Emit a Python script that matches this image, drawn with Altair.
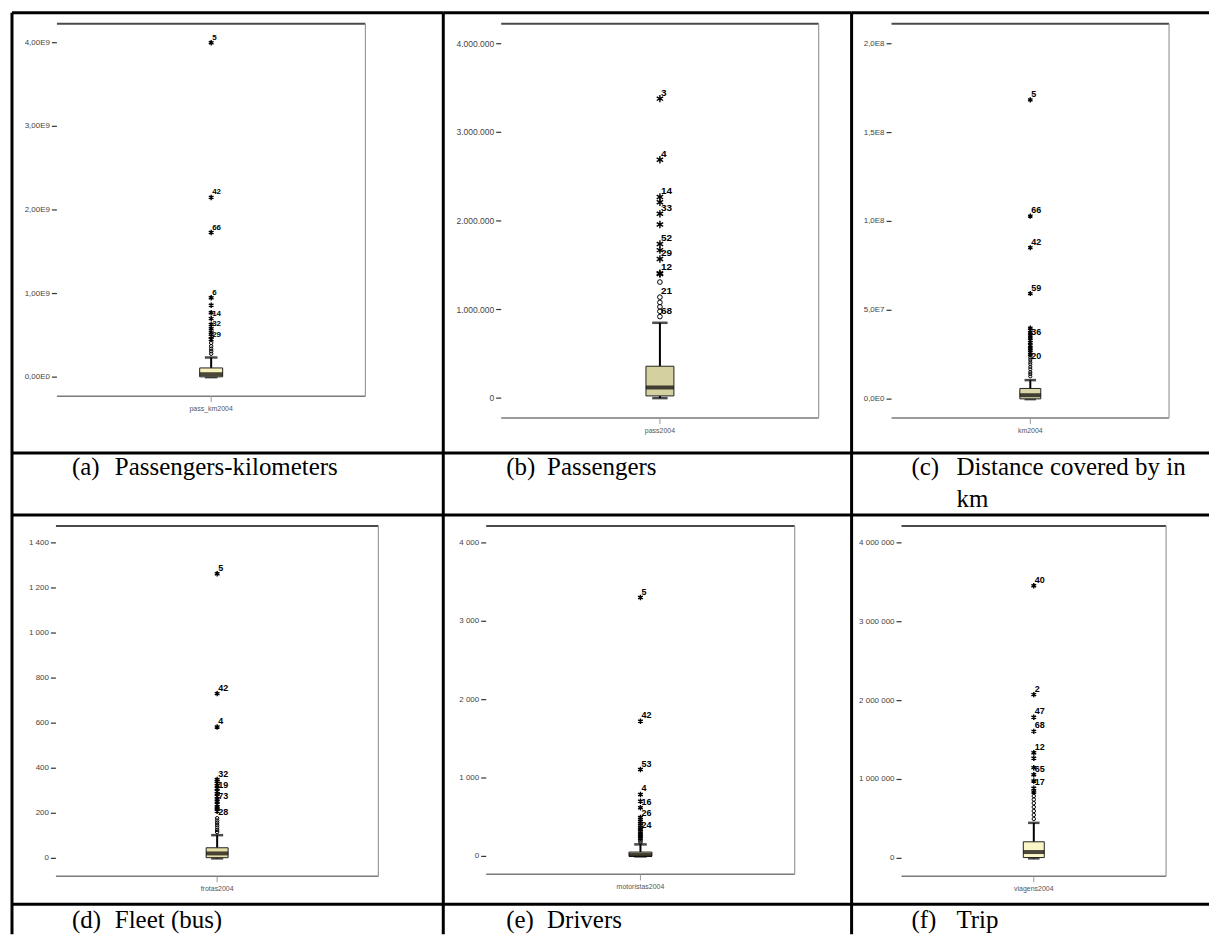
import altair as alt
import pandas as pd

# ---------------- data ----------------
VARS = ["pass_km2004", "pass2004", "km2004", "frotas2004", "motoristas2004", "viagens2004"]
TAGS = ["(a)", "(b)", "(c)", "(d)", "(e)", "(f)"]
CAPTIONS = ["Passengers-kilometers", "Passengers", "Distance covered by in", "Fleet (bus)", "Drivers", "Trip"]
CAPTION_LINE2 = ["", "", "km", "", "", ""]

# box statistics: lower whisker, Q1, median, Q3, upper whisker
A_BOX = [0.0, 0.004e9, 0.035e9, 0.11e9, 0.235e9]
A_OUT = [4.00e9, 2.15e9, 1.73e9, 0.95e9, 0.86e9, 0.77e9, 0.70e9, 0.63e9, 0.58e9, 0.53e9,
         0.49e9, 0.45e9, 0.41e9, 0.37e9, 0.34e9, 0.31e9, 0.28e9]
A_LAB = ["5", "42", "66", "6", "", "", "14", "", "32", "", "", "29", "", "", "", "", ""]
A_TICKS = [0, 1e9, 2e9, 3e9, 4e9]
A_TICKLAB = ["0,00E0", "1,00E9", "2,00E9", "3,00E9", "4,00E9"]
A_DOMAIN = [-0.227e9, 4.227e9]

B_BOX = [0.0, 0.025e6, 0.12e6, 0.36e6, 0.85e6]
B_OUT = [3.38e6, 2.69e6, 2.27e6, 2.21e6, 2.08e6, 1.96e6, 1.74e6, 1.67e6, 1.57e6, 1.41e6,
         1.40e6, 1.31e6, 1.14e6, 1.08e6, 1.03e6, 0.98e6, 0.92e6]
B_LAB = ["3", "4", "14", "", "33", "", "52", "", "29", "12", "", "", "21", "", "", "", "68"]
B_TICKS = [0, 1e6, 2e6, 3e6, 4e6]
B_TICKLAB = ["0", "1.000.000", "2.000.000", "3.000.000", "4.000.000"]
B_DOMAIN = [-0.2254e6, 4.2254e6]

C_BOX = [0.0, 0.0015e8, 0.022e8, 0.06e8, 0.107e8]
C_OUT = [1.684e8, 1.03e8, 0.852e8, 0.594e8, 0.40e8, 0.387e8, 0.372e8, 0.36e8, 0.343e8, 0.33e8,
         0.318e8, 0.301e8, 0.287e8, 0.276e8, 0.262e8, 0.249e8, 0.233e8, 0.221e8, 0.207e8,
         0.196e8, 0.181e8, 0.168e8, 0.152e8, 0.141e8, 0.128e8]
C_LAB = ["5", "66", "42", "59", "", "", "", "", "36", "", "", "", "", "", "", "", "", "", "20",
         "", "", "", "", "", ""]
C_TICKS = [0, 0.5e8, 1.0e8, 1.5e8, 2.0e8]
C_TICKLAB = ["0,0E0", "5,0E7", "1,0E8", "1,5E8", "2,0E8"]
C_DOMAIN = [-0.1067e8, 2.1124e8]

D_BOX = [0.0, 3.0, 22.0, 47.0, 103.0]
D_OUT = [1263, 731, 583, 350, 342, 333, 322, 310, 298, 287, 276, 263, 251, 240, 228, 219, 209,
         178, 168, 158, 147, 137, 126, 117]
D_LAB = ["5", "42", "4", "32", "", "", "", "", "19", "", "", "", "73", "", "", "", "",
         "28", "", "", "", "", "", ""]
D_TICKS = [0, 200, 400, 600, 800, 1000, 1200, 1400]
D_TICKLAB = ["0", "200", "400", "600", "800", "1 000", "1 200", "1 400"]
D_DOMAIN = [-79.7, 1475.3]

E_BOX = [0.0, 1.0, 17.0, 55.0, 153.0]
E_OUT = [3303, 1724, 1108, 790, 704, 620, 497, 472, 446, 421, 398, 372, 349, 322, 300, 274,
         251, 226, 199, 178]
E_LAB = ["5", "42", "53", "4", "", "16", "", "26", "", "", "", "", "", "24", "", "", "", "", "", ""]
E_TICKS = [0, 1000, 2000, 3000, 4000]
E_TICKLAB = ["0", "1 000", "2 000", "3 000", "4 000"]
E_DOMAIN = [-229.0, 4217.0]

F_BOX = [0.0, 0.01e6, 0.08e6, 0.21e6, 0.45e6]
F_OUT = [3.456e6, 2.076e6, 1.79e6, 1.61e6, 1.34e6, 1.27e6, 1.15e6, 1.06e6, 0.98e6, 0.89e6,
         0.84e6, 0.79e6, 0.745e6, 0.70e6, 0.65e6, 0.60e6, 0.55e6, 0.50e6]
F_LAB = ["40", "2", "47", "68", "12", "", "", "65", "", "17", "", "", "", "", "", "", "", ""]
F_TICKS = [0, 1e6, 2e6, 3e6, 4e6]
F_TICKLAB = ["0", "1 000 000", "2 000 000", "3 000 000", "4 000 000"]
F_DOMAIN = [-0.228e6, 4.215e6]

PANELS = [
    (A_BOX, A_OUT, A_LAB, A_TICKS, A_TICKLAB, A_DOMAIN),
    (B_BOX, B_OUT, B_LAB, B_TICKS, B_TICKLAB, B_DOMAIN),
    (C_BOX, C_OUT, C_LAB, C_TICKS, C_TICKLAB, C_DOMAIN),
    (D_BOX, D_OUT, D_LAB, D_TICKS, D_TICKLAB, D_DOMAIN),
    (E_BOX, E_OUT, E_LAB, E_TICKS, E_TICKLAB, E_DOMAIN),
    (F_BOX, F_OUT, F_LAB, F_TICKS, F_TICKLAB, F_DOMAIN),
]

# ---------------- layout / style ----------------
# cell width, cell height, frame left, frame right, frame top, frame bottom, box width
GEO = [
    (432, 503, 45, 354, 11, 384, 23),
    (409, 503, 58, 376, 11, 406, 28),
    (358, 503, 40, 318, 11, 406, 21),
    (432, 420, 44, 367, 11, 362, 22),
    (409, 420, 43, 352, 11, 360, 23),
    (358, 420, 50, 315, 11, 362, 21),
]
CAP_SEP = [441, 441, 441, 390, 390, 390]
CAP_BASE = [463, 463, 463, 414, 414, 414]
TAG_X = [60, 63, 60, 60, 63, 60]
TEXT_X = [103, 104, 105, 103, 104, 105]
# box fill, star size, circle size, label font size, tick label font size
STYLE = [
    ("#f8f2bc", 30, 12, 8, 8),
    ("#d5d0a0", 55, 22, 10, 8.5),
    ("#dcd7aa", 26, 10, 9, 8),
    ("#e6dea6", 30, 12, 9, 8),
    ("#cfc898", 30, 12, 9, 8),
    ("#faf6c6", 30, 12, 9, 8),
]
BORDER = "#000000"
ASTERISK = "M0,-1L0,1M-0.87,-0.5L0.87,0.5M-0.87,0.5L0.87,-0.5"


def one():
    return pd.DataFrame({"k": [0]})


cells = []
for i, (box, out, lab, ticks, ticklab, domain) in enumerate(PANELS):
    W, H, fl, fr, ft, fb, bw = GEO[i]
    fill, ssz, csz, lfs, tfs = STYLE[i]
    name = VARS[i]
    lo, q1, med, q3, hi = box
    ysc = alt.Scale(domain=domain, range=[fb, ft], nice=False, zero=False)
    xsc = alt.Scale(type="point", domain=[name], range=[fl, fr], padding=0.5)
    X = alt.X("var:N", scale=xsc, axis=None)

    def Y(field):
        return alt.Y(field, scale=ysc, axis=None)

    bdf = pd.DataFrame({"var": [name], "lo": [lo], "q1": [q1], "med": [med], "q3": [q3], "hi": [hi]})
    thr = q3 + 3 * (q3 - q1)
    odf = pd.DataFrame({
        "var": [name] * len(out),
        "v": out,
        "sym": ["*" if v > thr else "o" for v in out],
        "lab": lab,
    })
    ldf = odf[odf["lab"] != ""]
    tdf = pd.DataFrame({"t": ticks, "tl": ticklab})

    base = alt.Chart(bdf)

    # SPSS-style frame
    frame_top = alt.Chart(one()).mark_rule(color="#4a4a4a", strokeWidth=2).encode(
        y=alt.Y(datum=domain[1], type="quantitative", scale=ysc, axis=None),
        x=alt.value(fl), x2=alt.value(fr))
    frame_bot = alt.Chart(one()).mark_rule(color="#7a7a7a", strokeWidth=1.5).encode(
        y=alt.Y(datum=domain[0], type="quantitative", scale=ysc, axis=None),
        x=alt.value(fl), x2=alt.value(fr))
    frame_right = alt.Chart(one()).mark_rule(color="#9a9a9a", strokeWidth=1.2).encode(
        x=alt.value(fr),
        y=alt.Y(datum=domain[0], type="quantitative", scale=ysc, axis=None),
        y2=alt.datum(domain[1]))

    # y ticks + labels (through the y scale)
    yticks = alt.Chart(tdf).mark_rule(color="#333333", strokeWidth=1.2).encode(
        y=Y("t:Q"), x=alt.value(fl - 5), x2=alt.value(fl))
    ylabels = alt.Chart(tdf).mark_text(font="Liberation Sans", fontSize=tfs, color="#444444",
                                       align="right", baseline="middle").encode(
        y=Y("t:Q"), x=alt.value(fl - 7), text="tl:N")
    # x tick + label (through the x scale)
    xtick = base.mark_rule(color="#999999", strokeWidth=1).encode(
        x=X, y=alt.value(fb), y2=alt.value(fb + 6))
    xlabel = base.mark_text(font="Liberation Sans", fontSize=7, color="#555555",
                            align="center", baseline="top").encode(
        x=X, y=alt.value(fb + 9), text="var:N")

    whisk_hi = base.mark_rule(color="black", strokeWidth=2).encode(x=X, y=Y("q3:Q"), y2="hi:Q")
    whisk_lo = base.mark_rule(color="black", strokeWidth=2).encode(x=X, y=Y("lo:Q"), y2="q1:Q")
    cap_hi = base.mark_tick(color="black", thickness=2.5, size=bw * 0.55).encode(x=X, y=Y("hi:Q"))
    cap_lo = base.mark_tick(color="black", thickness=2.5, size=bw * 0.55).encode(x=X, y=Y("lo:Q"))
    boxm = base.mark_bar(size=bw, fill=fill, stroke="#222222", strokeWidth=1).encode(
        x=X, y=Y("q1:Q"), y2="q3:Q")
    medm = base.mark_tick(color="black", thickness=4, size=bw).encode(x=X, y=Y("med:Q"))

    stars = alt.Chart(odf).transform_filter("datum.sym == '*'").mark_point(
        shape=ASTERISK, size=ssz, filled=False, color="black", strokeWidth=1.4, opacity=1).encode(
        x=X, y=Y("v:Q"))
    circles = alt.Chart(odf).transform_filter("datum.sym == 'o'").mark_point(
        shape="circle", size=csz, filled=False, color="black", strokeWidth=1, opacity=1).encode(
        x=X, y=Y("v:Q"))
    labels = alt.Chart(ldf).mark_text(
        font="Liberation Sans", fontWeight="bold", fontSize=lfs, baseline="alphabetic",
        align="left", dx=1, dy=-3, color="black").encode(
        x=X, y=Y("v:Q"), text="lab:N")

    # table lines
    left_b = alt.Chart(one()).mark_rule(color=BORDER, strokeWidth=3).encode(
        x=alt.value(0), y=alt.value(0), y2=alt.value(H))
    top_b = alt.Chart(one()).mark_rule(color=BORDER, strokeWidth=3).encode(
        x=alt.value(0), x2=alt.value(W), y=alt.value(0))
    sep_b = alt.Chart(one()).mark_rule(color=BORDER, strokeWidth=3).encode(
        x=alt.value(0), x2=alt.value(W), y=alt.value(CAP_SEP[i]))

    tag = alt.Chart(one()).mark_text(font="Liberation Serif", fontSize=25, align="left",
                                     baseline="alphabetic", color="black").encode(
        x=alt.value(TAG_X[i]), y=alt.value(CAP_BASE[i]), text=alt.value(TAGS[i]))
    cap = alt.Chart(one()).mark_text(font="Liberation Serif", fontSize=25, align="left",
                                     baseline="alphabetic", color="black").encode(
        x=alt.value(TEXT_X[i]), y=alt.value(CAP_BASE[i]), text=alt.value(CAPTIONS[i]))
    layers = [frame_top, frame_bot, frame_right, yticks, ylabels, xtick, xlabel,
              whisk_hi, whisk_lo, cap_hi, cap_lo, boxm, medm,
              stars, circles, labels, left_b, top_b, sep_b, tag, cap]
    if CAPTION_LINE2[i]:
        cap2 = alt.Chart(one()).mark_text(font="Liberation Serif", fontSize=25, align="left",
                                          baseline="alphabetic", color="black").encode(
            x=alt.value(TEXT_X[i]), y=alt.value(CAP_BASE[i] + 32), text=alt.value(CAPTION_LINE2[i]))
        layers.append(cap2)

    cells.append(alt.layer(*layers).properties(width=W, height=H))

chart = alt.concat(*cells, columns=3, spacing=0, bounds="flush", align="each").configure_view(
    stroke=None).properties(padding={"left": 2, "top": 2, "right": 0, "bottom": 0},
                            background="white")

chart.save("out.html", embed_options={"renderer": "svg", "actions": False})
